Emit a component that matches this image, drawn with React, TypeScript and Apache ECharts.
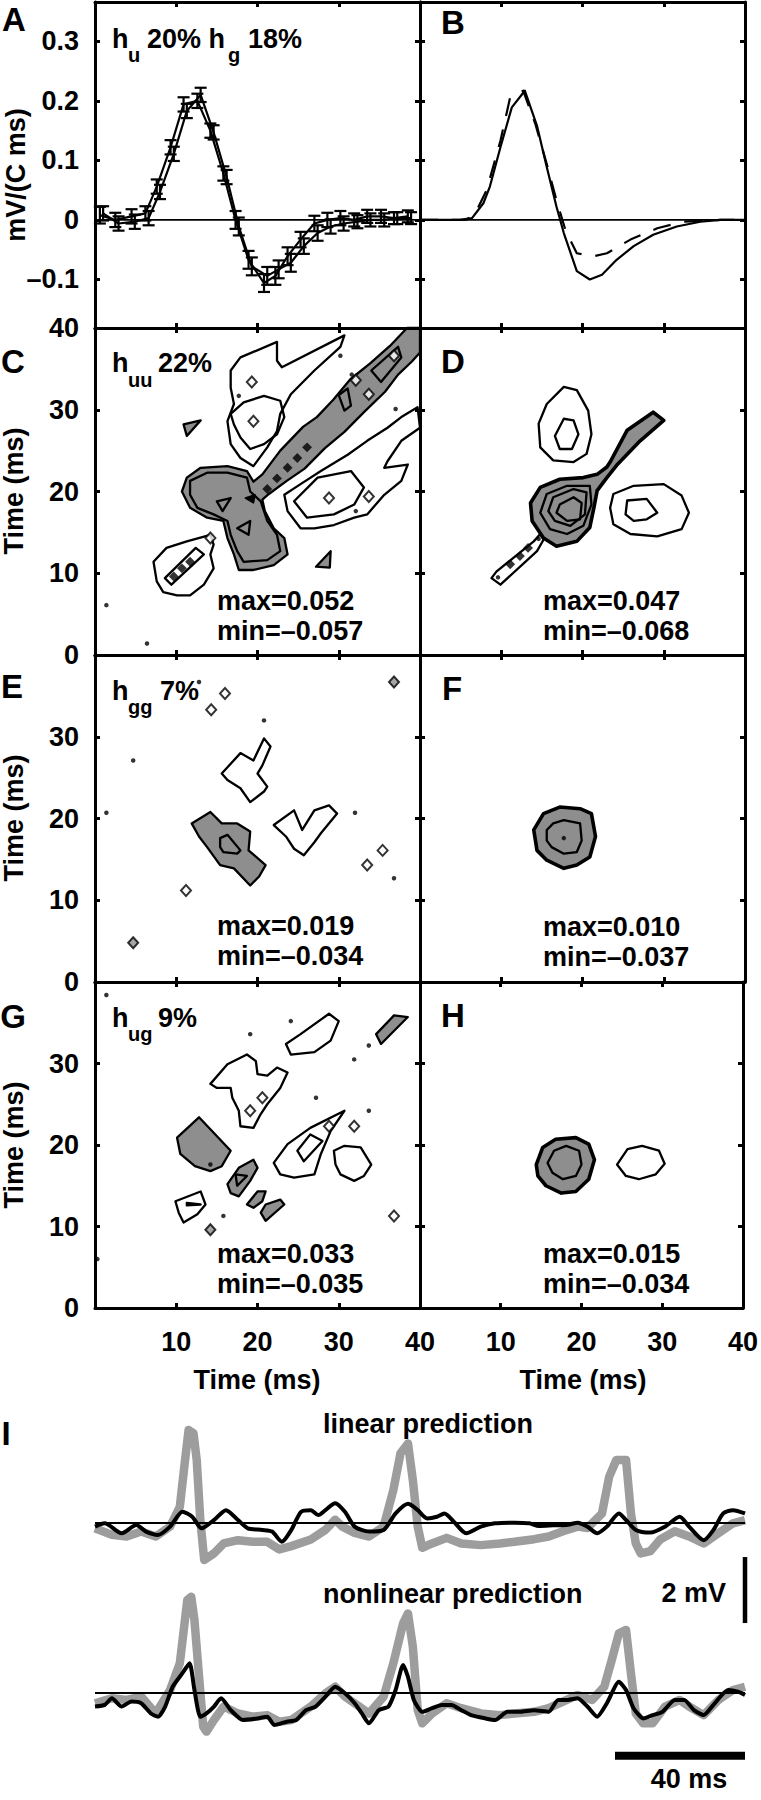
import React, { useEffect, useRef } from "react";
import * as echarts from "echarts";

// ---------- Panel A: first-order kernels with error bars ----------
const A_t1 = [0.6, 2.5, 4.5, 6.2, 7.6, 9.3, 10.9, 12.6, 14.2, 15.8, 17.3, 18.9, 20.8, 22.2, 23.7, 25.3, 27.0, 28.6, 30.2, 31.9, 33.5, 35.2, 36.8, 38.5];
const A_v1 = [0.008, 0, 0.006, 0.011, 0.056, 0.122, 0.194, 0.2, 0.15, 0.078, 0, -0.067, -0.106, -0.094, -0.061, -0.033, -0.006, 0, 0.003, 0, 0.006, 0.006, 0.003, 0.006];
const A_e1 = [0.014, 0.012, 0.012, 0.012, 0.012, 0.012, 0.012, 0.012, 0.012, 0.012, 0.015, 0.015, 0.015, 0.015, 0.015, 0.013, 0.013, 0.012, 0.012, 0.011, 0.011, 0.011, 0.01, 0.01];
const A_t2 = [1.0, 2.9, 4.9, 6.6, 8.0, 9.7, 11.3, 13.0, 14.6, 16.2, 17.7, 19.3, 21.2, 22.6, 24.1, 25.7, 27.4, 29.0, 30.6, 32.3, 33.9, 35.6, 37.2, 38.9];
const A_v2 = [0.011, -0.006, -0.003, 0.003, 0.047, 0.111, 0.183, 0.21, 0.147, 0.072, -0.011, -0.078, -0.094, -0.083, -0.072, -0.044, -0.022, -0.011, -0.006, -0.003, 0, 0, 0.003, 0.003];
const A_e2 = [0.012, 0.012, 0.012, 0.012, 0.012, 0.012, 0.012, 0.012, 0.012, 0.012, 0.015, 0.015, 0.015, 0.015, 0.015, 0.013, 0.013, 0.012, 0.012, 0.011, 0.011, 0.011, 0.01, 0.01];
const zeroLine = [[0, 0], [40, 0]];

// ---------- Panel B: model kernels ----------
const B_tSolid = [0, 4.9, 6.4, 7.8, 8.6, 9.9, 11.3, 12.9, 14.4, 15.6, 16.8, 17.7, 19.3, 20.9, 22.4, 24.2, 26.3, 28.7, 31.6, 34.5, 37.0, 40];
const B_vSolid = [0, 0, 0.003, 0.028, 0.056, 0.122, 0.189, 0.217, 0.158, 0.089, 0.022, -0.022, -0.086, -0.1, -0.092, -0.067, -0.044, -0.025, -0.011, -0.003, 0, 0];
const B_tDash = [0, 5.7, 6.8, 8.2, 9.9, 11.1, 12.7, 14.2, 15.6, 16.8, 17.9, 19.3, 21.4, 23.0, 25.9, 29.2, 32.4, 37.0, 40];
const B_vDash = [0, 0, 0.011, 0.05, 0.133, 0.206, 0.217, 0.161, 0.094, 0.033, -0.017, -0.056, -0.061, -0.056, -0.033, -0.014, -0.003, 0, 0];

// ---------- Panel C: h_uu contours (ms, ms) ----------
const C_grayOuter = [[11.3, 21.7], [13.0, 22.9], [16.3, 23.1], [18.7, 22.5], [19.5, 21.2], [20.6, 22.1], [22.8, 25.0], [25.6, 27.9], [27.3, 29.1], [29.3, 31.2], [31.4, 33.7], [33.9, 35.7], [36.3, 37.8], [38.4, 40], [40, 40], [40, 37.0], [39.0, 35.9], [37.3, 34.3], [35.7, 32.2], [33.2, 29.8], [30.7, 27.3], [28.3, 25.3], [25.8, 22.8], [23.6, 21.3], [21.4, 19.7], [20.6, 19.0], [20.9, 17.6], [22.0, 15.5], [23.3, 14.3], [23.7, 12.3], [22.0, 11.0], [19.5, 10.4], [17.7, 10.4], [17.1, 12.3], [16.3, 14.3], [15.8, 16.4], [13.8, 16.8], [11.7, 18.0], [10.7, 20.0]];
const C_grayInner = [[11.7, 21.3], [13.8, 22.3], [16.3, 22.3], [18.7, 21.7], [19.1, 20.0], [20.4, 18.8], [21.2, 16.4], [22.4, 14.7], [22.8, 12.7], [21.2, 11.6], [18.3, 11.4], [17.5, 12.7], [16.7, 14.7], [16.3, 16.4], [14.6, 17.2], [12.6, 18.0], [11.7, 19.6]];
const C_inTri1 = [[15.0, 18.8], [16.7, 19.2], [15.7, 17.6]];
const C_inTri2 = [[17.5, 15.5], [19.1, 16.4], [18.9, 14.7]];
const C_inTri3 = [[18.5, 19.2], [19.7, 19.6], [19.5, 18.6]];
const C_bandLoop1 = [[30.0, 31.8], [31.1, 32.6], [31.5, 30.5], [30.7, 29.9]];
const C_bandLoop2 = [[34.0, 34.8], [37.3, 37.7], [37.7, 36.4], [35.2, 33.4]];
const C_whiteUL = [[16.7, 34.8], [17.9, 36.4], [22.4, 38.3], [22.4, 36.0], [23.0, 35.2], [30.7, 39.1], [30.2, 37.7], [27.0, 34.8], [24.1, 31.9], [22.8, 29.5], [22.4, 27.4], [21.2, 25.4], [19.5, 23.1], [17.9, 24.1], [16.7, 25.8], [16.3, 28.6], [17.1, 30.7], [16.7, 32.7]];
const C_whiteULin = [[16.7, 29.5], [18.3, 30.9], [20.8, 31.7], [22.8, 31.1], [23.3, 29.1], [22.4, 27.0], [20.8, 25.8], [19.1, 25.2], [17.9, 26.6], [17.1, 28.2]];
const C_whiteR = [[23.3, 19.6], [25.3, 20.9], [27.8, 22.5], [31.1, 24.5], [33.5, 26.2], [36.0, 27.8], [37.7, 29.1], [39.7, 30.3], [40, 27.8], [37.7, 26.2], [36.0, 23.7], [35.6, 22.9], [38.5, 23.3], [37.7, 21.3], [35.6, 19.6], [33.5, 17.2], [31.9, 16.8], [29.4, 15.9], [27.0, 15.5], [25.3, 15.5], [23.7, 17.6]];
const C_whiteRin = [[24.5, 18.8], [27.4, 21.7], [31.5, 22.5], [33.1, 20.5], [31.9, 18.4], [29.4, 17.2], [26.1, 16.8]];
const C_whiteLL = [[7.6, 9.0], [7.2, 11.4], [8.8, 13.1], [11.3, 13.9], [14.2, 14.7], [14.6, 13.5], [14.2, 12.3], [14.6, 10.6], [13.4, 8.6], [11.7, 7.3], [10.1, 7.3], [8.4, 7.7]];
const C_whiteLLin = [[8.6, 9.4], [12.4, 13.1], [13.4, 12.3], [9.4, 8.6]];
const C_grayTri1 = [[10.9, 28.2], [13.0, 28.7], [11.3, 26.8]];
const C_grayTri2 = [[27.2, 10.8], [29.0, 12.7], [28.9, 10.7]];
const C_whiteDiamonds = [[19.3, 33.4], [19.5, 28.6], [28.8, 19.2], [33.7, 19.4], [32.1, 33.6], [33.7, 31.9], [36.8, 36.6], [14.2, 14.3]];
const C_stripes = [[21.2, 20.3], [22.4, 21.6], [23.7, 22.9], [24.9, 24.1], [26.1, 25.4], [9.7, 9.6], [10.7, 10.6], [11.7, 11.4]];
const C_dots = [[1.4, 6.1], [6.4, 1.4], [17.7, 31.7], [30.2, 36.6], [37.0, 30.1], [32.1, 17.6], [31.6, 34.3]];

// ---------- Panel D ----------
const D_grayOuter = [[14.8, 20.5], [17.2, 21.5], [20.1, 21.7], [21.8, 22.1], [23.0, 23.0], [23.4, 23.6], [25.5, 27.5], [28.7, 29.7], [30.0, 28.7], [27.1, 26.2], [24.2, 23.2], [23.0, 21.7], [21.8, 20.1], [21.4, 18.0], [20.9, 15.6], [19.3, 13.9], [16.8, 13.3], [15.2, 14.3], [13.8, 16.4], [13.6, 18.6]];
const D_in1 = [[15.6, 19.7], [18.1, 20.7], [20.9, 20.7], [21.1, 18.4], [20.1, 15.8], [18.1, 14.8], [16.0, 15.4], [14.8, 17.4]];
const D_in2 = [[16.4, 19.3], [18.9, 20.3], [20.5, 19.9], [20.3, 17.2], [18.5, 15.8], [16.6, 16.4], [15.8, 17.6]];
const D_in3 = [[17.2, 18.4], [18.9, 19.3], [19.9, 18.6], [19.7, 16.6], [18.1, 16.4], [16.8, 17.4]];
const D_egg = [[17.7, 32.8], [19.3, 32.4], [20.7, 29.9], [21.1, 27.0], [20.5, 24.6], [18.9, 23.6], [16.4, 23.8], [14.8, 25.4], [14.6, 28.3], [15.6, 30.7]];
const D_eggIn = [[17.7, 28.9], [18.9, 28.7], [19.5, 27.0], [18.7, 25.2], [17.2, 25.2], [16.6, 26.8]];
const D_oval = [[23.8, 19.7], [26.3, 20.7], [30.0, 20.9], [32.2, 19.5], [33.1, 17.4], [32.2, 15.4], [29.2, 14.5], [25.9, 14.8], [23.8, 16.0], [23.4, 18.0]];
const D_ovalIn = [[25.5, 18.9], [27.9, 19.1], [29.2, 17.4], [27.9, 16.6], [26.3, 16.4], [25.3, 17.2]];
const D_stick = [[8.8, 9.4], [9.4, 10.2], [14.0, 13.9], [14.8, 14.8], [15.2, 14.1], [14.4, 12.7], [9.9, 8.6]];
const D_stripes = [[11.1, 11.1], [12.3, 12.1], [13.3, 13.1]];
const D_dots = [[9.6, 9.5], [14.6, 14.2]];

// ---------- Panel E ----------
const E_gray = [[11.9, 19.4], [14.2, 20.8], [15.6, 19.4], [17.5, 19.4], [19.1, 18.4], [18.9, 16.1], [21.0, 14.3], [20.2, 12.9], [19.1, 11.8], [17.1, 13.9], [15.4, 14.3], [13.8, 16.5], [12.8, 17.8]];
const E_grayIn = [[15.4, 17.6], [16.3, 18.0], [17.9, 16.1], [17.5, 15.7], [15.8, 15.9], [15.4, 16.5]];
const E_whiteUp = [[15.6, 25.5], [17.9, 28.0], [19.5, 27.1], [20.8, 29.8], [21.6, 28.8], [20.6, 26.5], [20.0, 25.5], [21.2, 23.9], [20.8, 23.3], [19.1, 22.0], [17.9, 23.7], [16.3, 24.7]];
const E_whiteRt = [[22.0, 19.2], [24.5, 21.0], [25.5, 18.6], [27.0, 21.0], [28.8, 21.6], [29.8, 20.6], [27.8, 18.2], [27.0, 17.1], [25.7, 15.5], [24.5, 16.3], [23.5, 17.8]];
const E_whiteDiamonds = [[14.3, 33.3], [16.0, 35.3], [33.5, 14.3], [35.4, 16.1], [11.2, 11.2]];
const E_grayDiamonds = [[36.8, 36.7], [4.7, 4.8]];
const E_dots = [[20.8, 32.0], [4.7, 27.1], [1.4, 20.7], [32.0, 20.7], [36.8, 12.7], [12.8, 36.7]];

// ---------- Panel F ----------
const F_outer = [[14.0, 18.6], [15.2, 20.6], [17.2, 21.4], [19.7, 21.2], [21.1, 20.6], [21.6, 17.8], [20.9, 15.3], [19.3, 14.3], [17.7, 13.9], [15.6, 14.9], [14.4, 16.1]];
const F_inner = [[15.6, 18.6], [16.4, 19.4], [17.7, 19.8], [19.7, 19.4], [19.9, 17.3], [19.3, 15.9], [17.7, 15.7], [16.2, 16.5], [15.6, 17.3]];
const F_dots = [[17.7, 17.6]];

// ---------- Panel G ----------
const G_gray1 = [[10.1, 20.9], [12.8, 23.4], [16.7, 19.3], [15.6, 17.4], [14.2, 16.8], [12.3, 17.4], [10.5, 18.9]];
const G_gray2 = [[16.3, 15.2], [17.7, 17.2], [19.5, 18.2], [20.0, 17.2], [19.1, 15.6], [17.7, 13.7], [16.7, 14.1]];
const G_gray2in = [[17.3, 16.4], [18.7, 16.2], [17.5, 15.0]];
const G_gray3 = [[18.7, 12.7], [20.0, 14.3], [21.0, 14.3], [20.6, 13.1], [19.5, 12.3]];
const G_gray4 = [[20.4, 11.7], [21.0, 12.7], [22.8, 13.3], [23.3, 12.7], [21.0, 10.7]];
const G_gray5 = [[34.6, 33.6], [36.8, 35.9], [38.5, 35.7], [35.2, 32.4]];
const G_white1 = [[14.2, 27.5], [16.3, 29.9], [18.7, 31.1], [19.8, 30.3], [20.0, 28.7], [21.2, 28.5], [22.4, 29.5], [23.7, 28.9], [22.8, 27.0], [21.2, 25.0], [20.4, 23.8], [19.5, 22.1], [17.9, 22.3], [17.7, 24.2], [16.9, 25.8], [16.7, 27.0], [15.0, 27.0]];
const G_white2 = [[23.5, 32.4], [25.3, 33.6], [28.8, 36.1], [30.0, 35.2], [29.0, 32.8], [27.0, 31.4], [24.1, 31.1]];
const G_white3 = [[22.0, 17.8], [23.7, 20.1], [26.5, 22.1], [30.7, 24.2], [29.0, 21.7], [27.8, 18.9], [27.0, 16.4], [24.5, 16.0], [22.8, 16.4]];
const G_white3in = [[24.9, 19.3], [26.5, 21.3], [28.0, 20.5], [25.7, 18.0]];
const G_white4 = [[29.4, 19.3], [30.7, 19.9], [32.7, 19.7], [34.0, 17.6], [33.1, 16.2], [31.9, 15.6], [30.2, 16.4], [29.6, 17.6]];
const G_white5 = [[9.9, 13.1], [13.0, 14.3], [13.6, 12.7], [12.6, 11.5], [10.9, 10.5], [10.3, 11.7]];
const G_white5in = [[11.3, 12.9], [13.0, 12.7], [11.3, 12.6]];
const G_whiteDiamonds = [[20.6, 25.8], [19.1, 24.2], [36.8, 11.3], [31.9, 22.3], [28.8, 22.3]];
const G_grayDiamonds = [[14.2, 9.6]];
const G_dots = [[24.1, 35.2], [19.1, 33.6], [33.7, 32.2], [31.9, 30.5], [27.2, 25.8], [33.7, 24.2], [14.2, 17.6], [15.8, 11.3], [1.4, 38.4], [0.3, 6.0]];

// ---------- Panel H ----------
const H_outer = [[14.4, 17.6], [15.2, 19.7], [16.8, 20.7], [19.3, 20.9], [20.9, 20.1], [21.6, 18.2], [20.9, 15.8], [19.3, 14.3], [17.5, 14.1], [15.6, 15.0], [14.6, 16.2]];
const H_inner = [[15.8, 17.8], [16.6, 19.3], [18.1, 19.9], [19.7, 19.3], [20.0, 17.6], [19.3, 16.2], [17.7, 15.8], [16.4, 16.6]];
const H_oval = [[24.4, 17.6], [25.7, 19.5], [27.5, 19.9], [29.6, 19.3], [30.3, 17.7], [29.2, 16.4], [27.1, 15.8], [25.5, 16.2]];

// ---------- Panel I: traces (ms, mV) ----------
const I_linObs = [[0, -0.16], [5.2, -0.36], [9.7, -0.41], [14.2, -0.26], [18.7, -0.41], [23.1, -0.11], [26.1, 0.49], [27.6, 1.81], [28.8, 2.82], [30.3, 2.72], [31.3, 1.91], [32.4, 0.09], [33.6, -1.12], [36.6, -0.92], [39.6, -0.62], [44.0, -0.52], [48.5, -0.57], [53.0, -0.57], [56.7, -0.8], [60.4, -0.7], [66.4, -0.5], [70.9, -0.21], [73.9, 0.1], [76.1, -0.11], [79.9, -0.3], [84.3, -0.41], [88.8, -0.11], [91.8, 1.0], [94.0, 2.11], [96.3, 2.41], [97.8, 1.3], [99.3, -0.11], [100.7, -0.75], [103.7, -0.62], [108.2, -0.45], [112.7, -0.62], [118.7, -0.67], [124.6, -0.62], [129.1, -0.57], [135.1, -0.49], [139.6, -0.41], [144.0, -0.25], [148.5, -0.11], [151.5, -0.15], [156.0, 0.29], [158.2, 1.4], [160.4, 1.91], [163.4, 1.91], [164.9, 0.29], [166.4, -0.62], [167.9, -0.92], [170.9, -0.85], [173.9, -0.5], [178.4, -0.25], [182.8, -0.41], [187.3, -0.62], [191.8, -0.31], [196.3, -0.01], [200, 0.09]];
const I_linPred = [[0, -0.11], [3.0, -0.01], [8.2, -0.31], [12.7, -0.06], [15.7, -0.26], [19.4, -0.36], [23.1, -0.11], [26.9, 0.34], [29.9, 0.19], [32.8, -0.16], [36.6, 0.09], [40.3, 0.39], [44.0, 0.09], [47.0, -0.16], [51.5, -0.21], [54.5, -0.26], [57.5, -0.57], [60.4, -0.21], [63.4, 0.34], [66.4, 0.39], [68.7, 0.24], [70.9, 0.39], [73.9, 0.6], [76.9, 0.34], [79.9, -0.11], [84.3, -0.26], [88.8, -0.21], [92.5, 0.29], [96.3, 0.58], [99.3, 0.39], [102.2, 0.14], [105.2, 0.19], [107.5, 0.29], [110.4, 0.04], [114.2, -0.31], [118.7, -0.11], [123.1, -0.01], [129.1, 0.01], [133.6, -0.01], [136.6, -0.09], [141.0, -0.07], [145.5, -0.05], [148.5, 0.01], [151.5, -0.11], [154.5, -0.31], [157.5, -0.11], [161.2, 0.29], [163.4, 0.09], [166.4, -0.21], [170.9, -0.29], [175.4, -0.11], [179.9, 0.19], [182.8, -0.11], [187.3, -0.52], [190.3, -0.21], [193.3, 0.29], [196.3, 0.39], [200, 0.29]];
const I_nlObs = [[0, -0.31], [5.2, -0.16], [9.7, -0.21], [14.2, -0.11], [18.7, -0.62], [23.1, 0.09], [26.1, 0.9], [28.4, 2.82], [29.6, 2.92], [30.6, 2.21], [32.1, 0.39], [33.3, -1.02], [34.3, -1.17], [36.6, -0.82], [39.6, -0.41], [44.0, -0.62], [48.5, -0.72], [53.0, -0.67], [56.7, -0.87], [60.4, -0.82], [66.4, -0.41], [70.9, -0.01], [73.9, 0.19], [76.9, -0.11], [81.3, -0.41], [84.3, -0.62], [88.8, -0.11], [91.8, 0.9], [94.8, 2.11], [96.3, 2.41], [97.8, 1.4], [99.3, -0.52], [100.7, -0.92], [103.7, -0.62], [108.2, -0.31], [112.7, -0.46], [118.7, -0.62], [124.6, -0.67], [129.1, -0.62], [135.1, -0.57], [139.6, -0.46], [144.0, -0.26], [148.5, -0.06], [153.0, -0.21], [156.7, 0.19], [159.0, 1.0], [161.2, 1.81], [163.4, 1.91], [164.9, 0.6], [166.4, -0.62], [168.7, -0.92], [171.6, -0.92], [175.4, -0.41], [179.9, -0.21], [182.8, -0.41], [187.3, -0.67], [191.8, -0.21], [196.3, 0.09], [200, 0.19]];
const I_nlPred = [[0, -0.41], [3.0, -0.36], [5.2, -0.16], [8.2, -0.41], [11.2, -0.26], [14.2, -0.31], [17.2, -0.62], [19.4, -0.72], [21.6, -0.41], [23.9, 0.19], [26.9, 0.6], [29.1, 0.9], [30.6, 0.09], [32.4, -0.72], [34.3, -0.62], [36.6, -0.41], [38.8, -0.16], [41.8, -0.52], [45.5, -0.82], [50.0, -0.77], [53.0, -0.72], [55.2, -0.97], [59.0, -0.87], [61.9, -0.82], [64.9, -0.52], [67.9, -0.41], [70.9, -0.11], [73.9, 0.19], [76.9, -0.01], [79.9, -0.31], [82.1, -0.62], [84.3, -0.92], [87.3, -0.52], [90.3, -0.41], [92.5, 0.09], [94.8, 0.85], [96.3, 0.49], [98.1, -0.21], [100.7, -0.57], [103.7, -0.46], [106.7, -0.36], [109.7, -0.36], [112.7, -0.52], [115.7, -0.67], [120.1, -0.77], [123.1, -0.82], [126.9, -0.57], [130.6, -0.57], [135.1, -0.52], [139.6, -0.57], [142.5, -0.21], [145.5, -0.21], [148.5, -0.16], [151.5, -0.41], [154.5, -0.72], [157.5, -0.31], [161.2, 0.34], [163.4, 0.09], [165.7, -0.46], [168.7, -0.77], [171.6, -0.67], [174.6, -0.57], [178.4, -0.21], [181.3, -0.21], [184.3, -0.52], [187.3, -0.67], [190.3, -0.36], [194.8, 0.09], [197.8, 0.04], [200, -0.06]];
const I_baseline = [[0, 0], [200, 0]];
const scaleBarTime = [[160, -1.9], [200, -1.9]]; // 40 ms
const scaleBarVolt = [[200, 2.12], [200, 4.12]]; // 2 mV

// ---------- Text ----------
const panelLetters = ["A", "B", "C", "D", "E", "F", "G", "H", "I"];
const maxLabels = ["max=0.052", "max=0.047", "max=0.019", "max=0.010", "max=0.033", "max=0.015"];
const minLabels = ["min=\u20130.057", "min=\u20130.068", "min=\u20130.034", "min=\u20130.037", "min=\u20130.035", "min=\u20130.034"];
const A_yTicks = [-0.1, 0, 0.1, 0.2, 0.3];
const T_ticks = [10, 20, 30];

const FONT = '"Liberation Sans", Arial, Helvetica, sans-serif';
const GRAY_FILL = "#8e8e8e";
const TRACE_GRAY = "#9d9d9d";

type Shape = { pts: number[][]; kind: string };
const STYLE: Record<string, { fill: string; lw: number }> = {
  gray: { fill: GRAY_FILL, lw: 2.3 },
  grayThick: { fill: GRAY_FILL, lw: 3.6 },
  line: { fill: "none", lw: 2.3 },
  black: { fill: "#000", lw: 1.5 },
};

const shapesC: Shape[] = [
  { pts: C_grayOuter, kind: "gray" }, { pts: C_grayInner, kind: "line" },
  { pts: C_inTri1, kind: "line" }, { pts: C_inTri2, kind: "line" }, { pts: C_inTri3, kind: "black" },
  { pts: C_bandLoop1, kind: "line" }, { pts: C_bandLoop2, kind: "line" },
  { pts: C_whiteUL, kind: "line" }, { pts: C_whiteULin, kind: "line" },
  { pts: C_whiteR, kind: "line" }, { pts: C_whiteRin, kind: "line" },
  { pts: C_whiteLL, kind: "line" }, { pts: C_whiteLLin, kind: "line" },
  { pts: C_grayTri1, kind: "gray" }, { pts: C_grayTri2, kind: "gray" },
];
const shapesD: Shape[] = [
  { pts: D_grayOuter, kind: "grayThick" }, { pts: D_in1, kind: "line" }, { pts: D_in2, kind: "line" }, { pts: D_in3, kind: "line" },
  { pts: D_egg, kind: "line" }, { pts: D_eggIn, kind: "line" }, { pts: D_oval, kind: "line" }, { pts: D_ovalIn, kind: "line" },
  { pts: D_stick, kind: "line" },
];
const shapesE: Shape[] = [
  { pts: E_gray, kind: "gray" }, { pts: E_grayIn, kind: "line" }, { pts: E_whiteUp, kind: "line" }, { pts: E_whiteRt, kind: "line" },
];
const shapesF: Shape[] = [{ pts: F_outer, kind: "grayThick" }, { pts: F_inner, kind: "line" }];
const shapesG: Shape[] = [
  { pts: G_gray1, kind: "gray" }, { pts: G_gray2, kind: "gray" }, { pts: G_gray2in, kind: "line" },
  { pts: G_gray3, kind: "gray" }, { pts: G_gray4, kind: "gray" }, { pts: G_gray5, kind: "gray" },
  { pts: G_white1, kind: "line" }, { pts: G_white2, kind: "line" }, { pts: G_white3, kind: "line" }, { pts: G_white3in, kind: "line" },
  { pts: G_white4, kind: "line" }, { pts: G_white5, kind: "line" }, { pts: G_white5in, kind: "line" },
];
const shapesH: Shape[] = [{ pts: H_outer, kind: "grayThick" }, { pts: H_inner, kind: "line" }, { pts: H_oval, kind: "line" }];

function contourSeries(gi: number, shapes: Shape[]) {
  return {
    type: "custom", xAxisIndex: gi, yAxisIndex: gi, z: 2, silent: true,
    data: shapes.map((s, i) => [s.pts[0][0], s.pts[0][1], i]),
    renderItem: (params: any, api: any) => {
      const s = shapes[params.dataIndex];
      const st = STYLE[s.kind];
      return {
        type: "polygon",
        shape: { points: s.pts.map((p) => api.coord(p)) },
        style: { fill: st.fill, stroke: "#000", lineWidth: st.lw, lineJoin: "round" },
      };
    },
  };
}
function markerSeries(gi: number, data: number[][], kind: string) {
  const base: any = { type: "scatter", xAxisIndex: gi, yAxisIndex: gi, z: 3, silent: true, data };
  if (kind === "dot") return { ...base, symbol: "circle", symbolSize: 4.5, itemStyle: { color: "#000" } };
  if (kind === "stripe") return { ...base, symbol: "rect", symbolRotate: 45, symbolSize: 7, itemStyle: { color: "#000" } };
  if (kind === "grayDiamond") return { ...base, symbol: "diamond", symbolSize: [10, 11], itemStyle: { color: GRAY_FILL, borderColor: "#000", borderWidth: 2 } };
  return { ...base, symbol: "diamond", symbolSize: [10, 11], itemStyle: { color: "#fff", borderColor: "#000", borderWidth: 2 } };
}
function errorSeries(t: number[], v: number[], e: number[]) {
  return {
    type: "custom", xAxisIndex: 0, yAxisIndex: 0, z: 3, silent: true,
    data: t.map((x, i) => [x, v[i], e[i]]),
    renderItem: (_p: any, api: any) => {
      const x = api.value(0), y = api.value(1), err = api.value(2);
      const a = api.coord([x, y + err]);
      const b = api.coord([x, y - err]);
      const cw = 6;
      const st = { stroke: "#000", lineWidth: 2.2 };
      return {
        type: "group",
        children: [
          { type: "line", shape: { x1: a[0], y1: a[1], x2: b[0], y2: b[1] }, style: st },
          { type: "line", shape: { x1: a[0] - cw, y1: a[1], x2: a[0] + cw, y2: a[1] }, style: st },
          { type: "line", shape: { x1: b[0] - cw, y1: b[1], x2: b[0] + cw, y2: b[1] }, style: st },
        ],
      };
    },
  };
}
const pairs = (t: number[], v: number[]) => t.map((x, i) => [x, v[i]]);

function buildOption() {
  const COLS = [95, 420];
  const ROWS = [2, 328, 655, 982];
  const HS = [326, 327, 327, 326];
  const W = 325;
  const fontBase = { fontFamily: FONT, fontWeight: "bold", fontSize: 27, color: "#000" };
  const axisLine = { show: true, onZero: false, lineStyle: { color: "#000", width: 3 } };
  const grids: any[] = [];
  const xAxes: any[] = [];
  const yAxes: any[] = [];
  const secX: any[] = [];
  const secY: any[] = [];
  for (let i = 0; i < 8; i++) {
    const row = i >> 1, col = i & 1;
    grids.push({ left: COLS[col], top: ROWS[row], width: W, height: HS[row], show: false });
    const yMin = row === 0 ? -0.1815 : 0;
    const yMax = row === 0 ? 0.366 : 40;
    const yTickVals = row === 0 ? A_yTicks : T_ticks;
    const tick = (vals: number[]) => ({ show: true, inside: true, length: 5, lineStyle: { color: "#000", width: 3 }, customValues: vals });
    xAxes.push({
      gridIndex: i, type: "value", min: 0, max: 40, position: "bottom", z: 10,
      axisLine, splitLine: { show: false }, axisTick: tick(T_ticks),
      axisLabel: { show: row === 3, customValues: [10, 20, 30, 40], margin: 20, ...fontBase },
    });
    secX.push({
      gridIndex: i, type: "value", min: 0, max: 40, position: "top", z: 10,
      axisLine, splitLine: { show: false }, axisTick: tick(T_ticks), axisLabel: { show: false },
    });
    let yLabelVals: number[] = [];
    if (col === 0) yLabelVals = row === 0 ? A_yTicks : row === 1 ? [0, 10, 20, 30, 40] : [0, 10, 20, 30];
    yAxes.push({
      gridIndex: i, type: "value", min: yMin, max: yMax, position: "left", z: 10,
      axisLine, splitLine: { show: false }, axisTick: tick(yTickVals),
      axisLabel: {
        show: col === 0, customValues: yLabelVals, margin: 16, ...fontBase,
        formatter: (v: number) => (v < 0 ? "\u2013" + String(Math.abs(v)) : String(v)),
      },
    });
    secY.push({
      gridIndex: i, type: "value", min: yMin, max: yMax, position: "right", z: 10,
      axisLine, splitLine: { show: false }, axisTick: tick(yTickVals), axisLabel: { show: false },
    });
  }
  // Panel I grids: linear (8) and nonlinear (9)
  grids.push({ left: 95, top: 1523 - 3.6 * 33, width: 650, height: 5.4 * 33, show: false });
  grids.push({ left: 95, top: 1693 - 4.2 * 33, width: 650, height: 6.6 * 33, show: false });
  xAxes.push({ gridIndex: 8, type: "value", min: 0, max: 200, show: false });
  xAxes.push({ gridIndex: 9, type: "value", min: 0, max: 200, show: false });
  yAxes.push({ gridIndex: 8, type: "value", min: -1.8, max: 3.6, show: false });
  yAxes.push({ gridIndex: 9, type: "value", min: -2.4, max: 4.2, show: false });

  const lineS = (gi: number, data: number[][], color: string, width: number, extra: any = {}) => ({
    type: "line", xAxisIndex: gi, yAxisIndex: gi, data, showSymbol: false, symbol: "none", silent: true, clip: false, z: 4,
    lineStyle: { color, width, join: "round", cap: "butt", ...(extra.lineStyle || {}) },
    ...(extra.smooth !== undefined ? { smooth: extra.smooth } : {}),
  });

  const series: any[] = [
    lineS(0, zeroLine, "#000", 1.8),
    lineS(0, pairs(A_t1, A_v1), "#000", 2.2),
    lineS(0, pairs(A_t2, A_v2), "#000", 2.2),
    errorSeries(A_t1, A_v1, A_e1),
    errorSeries(A_t2, A_v2, A_e2),
    lineS(1, zeroLine, "#000", 1.8),
    lineS(1, pairs(B_tSolid, B_vSolid), "#000", 2.2),
    lineS(1, pairs(B_tDash, B_vDash), "#000", 2.2, { lineStyle: { type: [18, 14] } }),
    contourSeries(2, shapesC),
    markerSeries(2, C_whiteDiamonds, "white"),
    markerSeries(2, C_stripes, "stripe"),
    markerSeries(2, C_dots, "dot"),
    contourSeries(3, shapesD),
    markerSeries(3, D_stripes, "stripe"),
    markerSeries(3, D_dots, "dot"),
    contourSeries(4, shapesE),
    markerSeries(4, E_whiteDiamonds, "white"),
    markerSeries(4, E_grayDiamonds, "grayDiamond"),
    markerSeries(4, E_dots, "dot"),
    contourSeries(5, shapesF),
    markerSeries(5, F_dots, "dot"),
    contourSeries(6, shapesG),
    markerSeries(6, G_whiteDiamonds, "white"),
    markerSeries(6, G_grayDiamonds, "grayDiamond"),
    markerSeries(6, G_dots, "dot"),
    contourSeries(7, shapesH),
    lineS(8, I_linObs, TRACE_GRAY, 8.5),
    lineS(8, I_baseline, "#000", 2),
    lineS(8, I_linPred, "#000", 4, { smooth: 0.25 }),
    lineS(9, I_nlObs, TRACE_GRAY, 8.5),
    lineS(9, I_baseline, "#000", 2),
    lineS(9, I_nlPred, "#000", 4, { smooth: 0.2 }),
    lineS(9, scaleBarTime, "#000", 8),
    lineS(9, scaleBarVolt, "#000", 4.5),
  ];

  const txt = (text: string, x: number, y: number, size: number, align = "left", rotation = 0) => ({
    type: "text", x, y, rotation, silent: true, z: 20,
    style: {
      text, fill: "#000", fontFamily: FONT, fontWeight: "bold", fontSize: size,
      align, verticalAlign: "middle", textAlign: align, textVerticalAlign: "middle",
    },
  });
  const letterPos = [[14, 19], [453, 22], [13, 361], [453, 361], [12, 686], [452, 688], [13, 1016], [453, 1015], [6, 1433]];
  const maxPos = [[217, 601], [543, 601], [217, 926], [543, 927], [217, 1254], [543, 1254]];
  const graphic: any[] = [];
  panelLetters.forEach((l, i) => graphic.push(txt(l, letterPos[i][0], letterPos[i][1], 33, "center")));
  maxLabels.forEach((l, i) => graphic.push(txt(l, maxPos[i][0], maxPos[i][1], 27)));
  minLabels.forEach((l, i) => graphic.push(txt(l, maxPos[i][0], maxPos[i][1] + 30, 27)));
  // kernel names with subscripts
  graphic.push(txt("h", 112, 39, 27), txt("u", 128, 55, 20), txt("20% h", 147, 39, 27), txt("g", 228, 55, 20), txt("18%", 248, 39, 27));
  graphic.push(txt("h", 112, 363, 27), txt("uu", 128, 380, 20), txt("22%", 158, 363, 27));
  graphic.push(txt("h", 112, 691, 27), txt("gg", 128, 707, 20), txt("7%", 160, 691, 27));
  graphic.push(txt("h", 112, 1018, 27), txt("ug", 128, 1034, 20), txt("9%", 158, 1018, 27));
  // axis titles
  graphic.push(txt("mV/(C ms)", 16, 175, 27, "center", Math.PI / 2));
  graphic.push(txt("Time (ms)", 14, 491, 27, "center", Math.PI / 2));
  graphic.push(txt("Time (ms)", 14, 818, 27, "center", Math.PI / 2));
  graphic.push(txt("Time (ms)", 14, 1145, 27, "center", Math.PI / 2));
  graphic.push(txt("Time (ms)", 257, 1380, 27, "center"));
  graphic.push(txt("Time (ms)", 583, 1380, 27, "center"));
  // panel I
  graphic.push(txt("linear prediction", 323, 1424, 27));
  graphic.push(txt("nonlinear prediction", 323, 1594, 27));
  graphic.push(txt("2 mV", 726, 1593, 27, "right"));
  graphic.push(txt("40 ms", 689, 1779, 27, "center"));

  return {
    animation: false,
    backgroundColor: "#fff",
    grid: grids,
    xAxis: [...xAxes, ...secX],
    yAxis: [...yAxes, ...secY],
    series,
    graphic,
  };
}

export default function App() {
  const ref = useRef<HTMLDivElement>(null);
  useEffect(() => {
    document.body.style.margin = "0";
    const chart = echarts.init(ref.current as HTMLDivElement, null, { renderer: "svg" });
    chart.setOption(buildOption() as any);
    return () => chart.dispose();
  }, []);
  return <div ref={ref} style={{ width: 761, height: 1800 }} />;
}
